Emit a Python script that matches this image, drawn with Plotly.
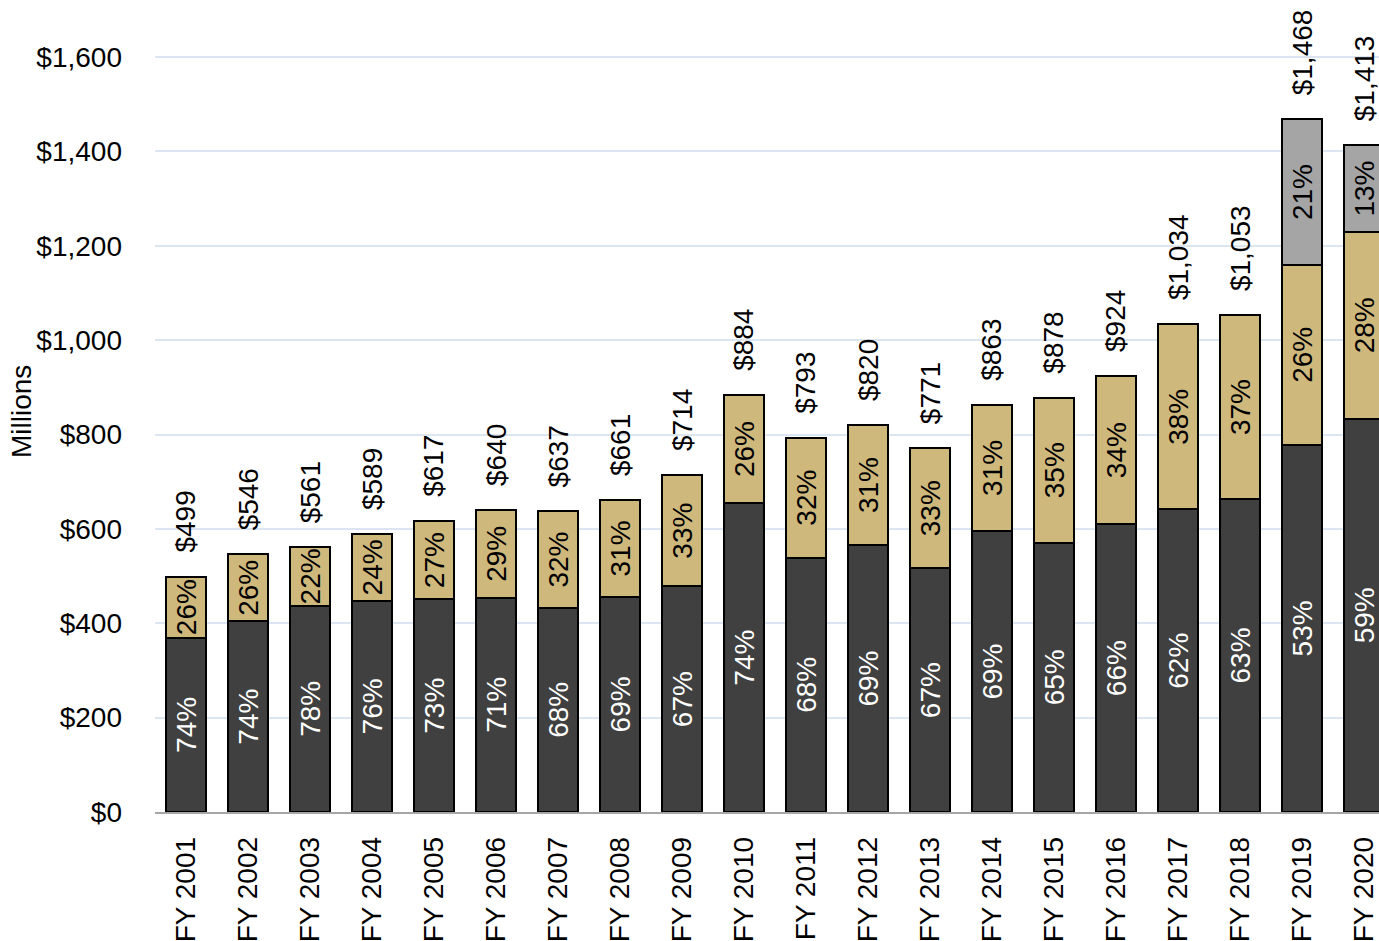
import plotly.graph_objects as go

# Fiscal years and funding totals (millions of dollars)
years = ["FY 2001", "FY 2002", "FY 2003", "FY 2004", "FY 2005", "FY 2006", "FY 2007",
         "FY 2008", "FY 2009", "FY 2010", "FY 2011", "FY 2012", "FY 2013", "FY 2014",
         "FY 2015", "FY 2016", "FY 2017", "FY 2018", "FY 2019", "FY 2020"]
totals = [499, 546, 561, 589, 617, 640, 637, 661, 714, 884, 793, 820, 771, 863,
          878, 924, 1034, 1053, 1468, 1413]

# Share of each year's total by component (percent)
pct_dark = [74, 74, 78, 76, 73, 71, 68, 69, 67, 74, 68, 69, 67, 69, 65, 66, 62, 63, 53, 59]
pct_tan = [26, 26, 22, 24, 27, 29, 32, 31, 33, 26, 32, 31, 33, 31, 35, 34, 38, 37, 26, 28]
pct_gray = [0, 0, 0, 0, 0, 0, 0, 0, 0, 0, 0, 0, 0, 0, 0, 0, 0, 0, 21, 13]

y_ticks = [0, 200, 400, 600, 800, 1000, 1200, 1400, 1600]
y_tick_text = ["$0", "$200", "$400", "$600", "$800", "$1,000", "$1,200", "$1,400", "$1,600"]

FONT = "Liberation Sans, Arial, Helvetica, sans-serif"
W, H = 1379, 941
ML, MB = 155, 129
PITCH = 62.0

def seg(pcts):
    return [t * p / 100 for t, p in zip(totals, pcts)]

def seg_text(pcts):
    return [f"{p}%" if p > 0 else "" for p in pcts]

fig = go.Figure()
series = [
    (pct_dark, "#404040", "white"),
    (pct_tan, "#CFB87C", "black"),
    (pct_gray, "#A5A5A5", "black"),
]
for pcts, color, tcolor in series:
    fig.add_trace(go.Bar(
        x=years, y=seg(pcts),
        marker=dict(color=color, line=dict(color="black", width=2)),
        text=seg_text(pcts), textposition="inside", textangle=-90,
        insidetextanchor="middle", constraintext="none",
        textfont=dict(family=FONT, size=28, color=tcolor),
        hoverinfo="skip", showlegend=False,
    ))

# Total labels above each bar
for yr, t in zip(years, totals):
    fig.add_annotation(
        x=yr, y=t, xref="x", yref="y", text=f"${t:,}", showarrow=False,
        textangle=-90, yanchor="bottom", xanchor="center", yshift=22,
        font=dict(family=FONT, size=28, color="black"),
    )

# Y-axis title
fig.add_annotation(
    x=(22 - ML) / (W - ML), y=(812 - 412) / 812, xref="paper", yref="paper",
    text="Millions", showarrow=False, textangle=-90,
    xanchor="center", yanchor="middle",
    font=dict(family=FONT, size=28, color="black"),
)

x_max = -0.5 + (W - ML) / PITCH
fig.update_layout(
    width=W, height=H,
    margin=dict(l=ML, r=0, t=0, b=MB, pad=0),
    barmode="stack", bargap=0.35,
    plot_bgcolor="white", paper_bgcolor="white",
    font=dict(family=FONT, size=28, color="black"),
    xaxis=dict(
        type="category", range=[-0.5, x_max], automargin=False,
        tickangle=-90, tickfont=dict(family=FONT, size=28),
        showline=True, linecolor="#A6A6A6", linewidth=1.5,
        showgrid=False, ticks="", ticklabelstandoff=12,
    ),
    yaxis=dict(
        range=[0, 1600 * 812 / 755], tickvals=y_ticks, ticktext=y_tick_text,
        automargin=False, tickfont=dict(family=FONT, size=28),
        showgrid=True, gridcolor="#DCE6F2", gridwidth=1.5,
        zeroline=False, showline=False, ticks="", ticklabelstandoff=32,
    ),
)

fig.write_html("out.html")
